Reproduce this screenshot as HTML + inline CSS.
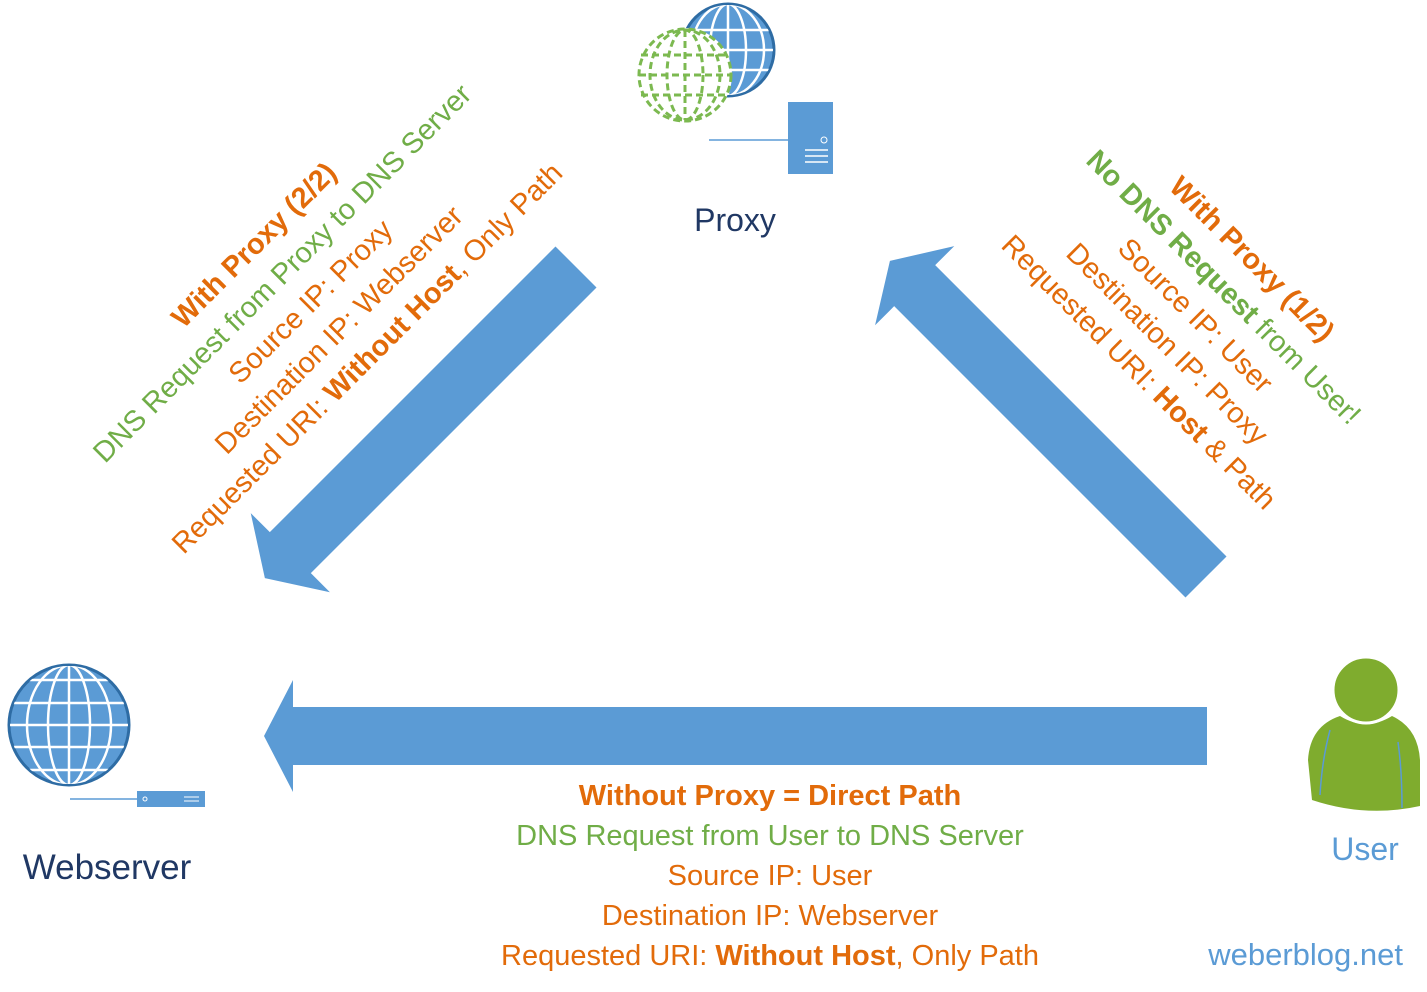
<!DOCTYPE html>
<html><head><meta charset="utf-8"><style>
body{margin:0;width:1427px;height:992px;background:#fff;position:relative;overflow:hidden;font-family:"Liberation Sans",sans-serif}
.t{position:absolute;white-space:nowrap;text-align:center;line-height:40px;font-size:29px}
.o{color:#e26b0a}.g{color:#70ad47}
b{font-weight:bold}
.blk{position:absolute;width:800px;height:200px;left:-400px;top:-100px;display:flex;flex-direction:column;justify-content:center;align-items:center}
.blk div{line-height:40px;font-size:29px;white-space:nowrap}
</style></head><body>
<svg width="1427" height="992" style="position:absolute;left:0;top:0">
<defs>
<clipPath id="c1"><circle cx="728" cy="50" r="45"/></clipPath>
<clipPath id="c2"><circle cx="69" cy="725" r="59"/></clipPath>
</defs>
<g fill="#5b9bd5">
<g transform="translate(576,267) rotate(135)"><polygon points="0,-29 404,-29 404,-56 440,0 404,56 404,29 0,29"/></g>
<g transform="translate(1206,577) rotate(-135)"><polygon points="0,-29 412,-29 412,-56 447,0 412,56 412,29 0,29"/></g>
<g transform="translate(1207,736) rotate(180)"><polygon points="0,-29 914,-29 914,-56 943,0 914,56 914,29 0,29"/></g>
</g>
<circle cx="728" cy="50" r="46" fill="#5b9bd5" stroke="#2e6ca4" stroke-width="3"/>
<g clip-path="url(#c1)" stroke="#fff" stroke-width="2.5" fill="none">
<line x1="680" y1="30" x2="776" y2="30"/><line x1="680" y1="50" x2="776" y2="50"/><line x1="680" y1="70" x2="776" y2="70"/>
<line x1="728" y1="0" x2="728" y2="100"/>
<ellipse cx="728" cy="50" rx="18" ry="46"/><ellipse cx="728" cy="50" rx="36" ry="46"/>
</g>
<circle cx="685" cy="75" r="47" fill="#fff"/>
<g stroke="#7cb950" stroke-width="3" fill="none" stroke-dasharray="7 4">
<circle cx="685" cy="75" r="46"/>
<line x1="641" y1="55" x2="729" y2="55"/><line x1="639" y1="75" x2="731" y2="75"/><line x1="641" y1="95" x2="729" y2="95"/>
<line x1="685" y1="30" x2="685" y2="120"/>
<ellipse cx="685" cy="75" rx="18" ry="45"/><ellipse cx="685" cy="75" rx="35" ry="45"/>
</g>
<line x1="709" y1="140" x2="788" y2="140" stroke="#5b9bd5" stroke-width="1.5"/>
<rect x="788" y="102" width="45" height="72" fill="#5b9bd5"/>
<circle cx="824" cy="140" r="3" fill="none" stroke="#fff" stroke-width="1"/>
<g stroke="#fff" stroke-width="1.5"><line x1="805" y1="150" x2="828" y2="150"/><line x1="805" y1="156" x2="828" y2="156"/><line x1="805" y1="162" x2="828" y2="162"/></g>
<circle cx="69" cy="725" r="60" fill="#5b9bd5" stroke="#2e6ca4" stroke-width="3"/>
<g clip-path="url(#c2)" stroke="#fff" stroke-width="2.5" fill="none">
<line x1="0" y1="680" x2="140" y2="680"/><line x1="0" y1="703" x2="140" y2="703"/><line x1="0" y1="725" x2="140" y2="725"/><line x1="0" y1="747" x2="140" y2="747"/><line x1="0" y1="770" x2="140" y2="770"/>
<line x1="69" y1="660" x2="69" y2="790"/>
<ellipse cx="69" cy="725" rx="21" ry="60"/><ellipse cx="69" cy="725" rx="42" ry="60"/>
</g>
<line x1="70" y1="799" x2="137" y2="799" stroke="#5b9bd5" stroke-width="1.5"/>
<rect x="137" y="791" width="68" height="16" fill="#5b9bd5"/>
<circle cx="145" cy="799" r="2" fill="none" stroke="#fff"/>
<g stroke="#fff" stroke-width="1"><line x1="184" y1="797" x2="199" y2="797"/><line x1="184" y1="801" x2="199" y2="801"/></g>
<path d="M1340,716 Q1366,732 1392,716 Q1418,728 1420,760 L1420,806 Q1366,818 1312,800 L1308,760 Q1310,726 1340,716 Z" fill="#7fac2e"/>
<circle cx="1366" cy="690" r="33" fill="#7fac2e" stroke="#fff" stroke-width="3"/>
<g stroke="#5b9bd5" stroke-width="1.5" fill="none"><path d="M1330,730 Q1322,760 1320,795"/><path d="M1398,742 Q1402,770 1402,808"/></g>
</svg>

<div class="t" style="left:635px;top:200px;width:200px;font-size:32px;color:#203864">Proxy</div>
<div class="t" style="left:0;top:848px;width:214px;font-size:35px;color:#203864">Webserver</div>
<div class="t" style="left:1305px;top:829px;width:120px;font-size:32px;color:#5b9bd5">User</div>
<div class="t" style="left:1100px;top:935px;width:303px;text-align:right;font-size:31px;color:#5b9bd5">weberblog.net</div>

<div class="t" style="left:370px;top:776px;width:800px">
<div class="o"><b>Without Proxy = Direct Path</b></div>
<div class="g">DNS Request from User to DNS Server</div>
<div class="o">Source IP: User</div>
<div class="o">Destination IP: Webserver</div>
<div class="o">Requested URI: <b>Without Host</b>, Only Path</div>
</div>

<div style="position:absolute;left:311px;top:302px;width:0;height:0;transform:rotate(-45deg)">
<div class="blk">
<div class="o"><b>With Proxy (2/2)</b></div>
<div class="g">DNS Request from Proxy to DNS Server</div>
<div class="o">Source IP: Proxy</div>
<div class="o">Destination IP: Webserver</div>
<div class="o">Requested URI: <b>Without Host</b>, Only Path</div>
</div></div>

<div style="position:absolute;left:1195px;top:316px;width:0;height:0;transform:rotate(45deg)">
<div class="blk">
<div class="o"><b>With Proxy (1/2)</b></div>
<div class="g"><b>No DNS Request</b> from User!</div>
<div class="o">Source IP: User</div>
<div class="o">Destination IP: Proxy</div>
<div class="o">Requested URI: <b>Host</b> &amp; Path</div>
</div></div>
</body></html>
